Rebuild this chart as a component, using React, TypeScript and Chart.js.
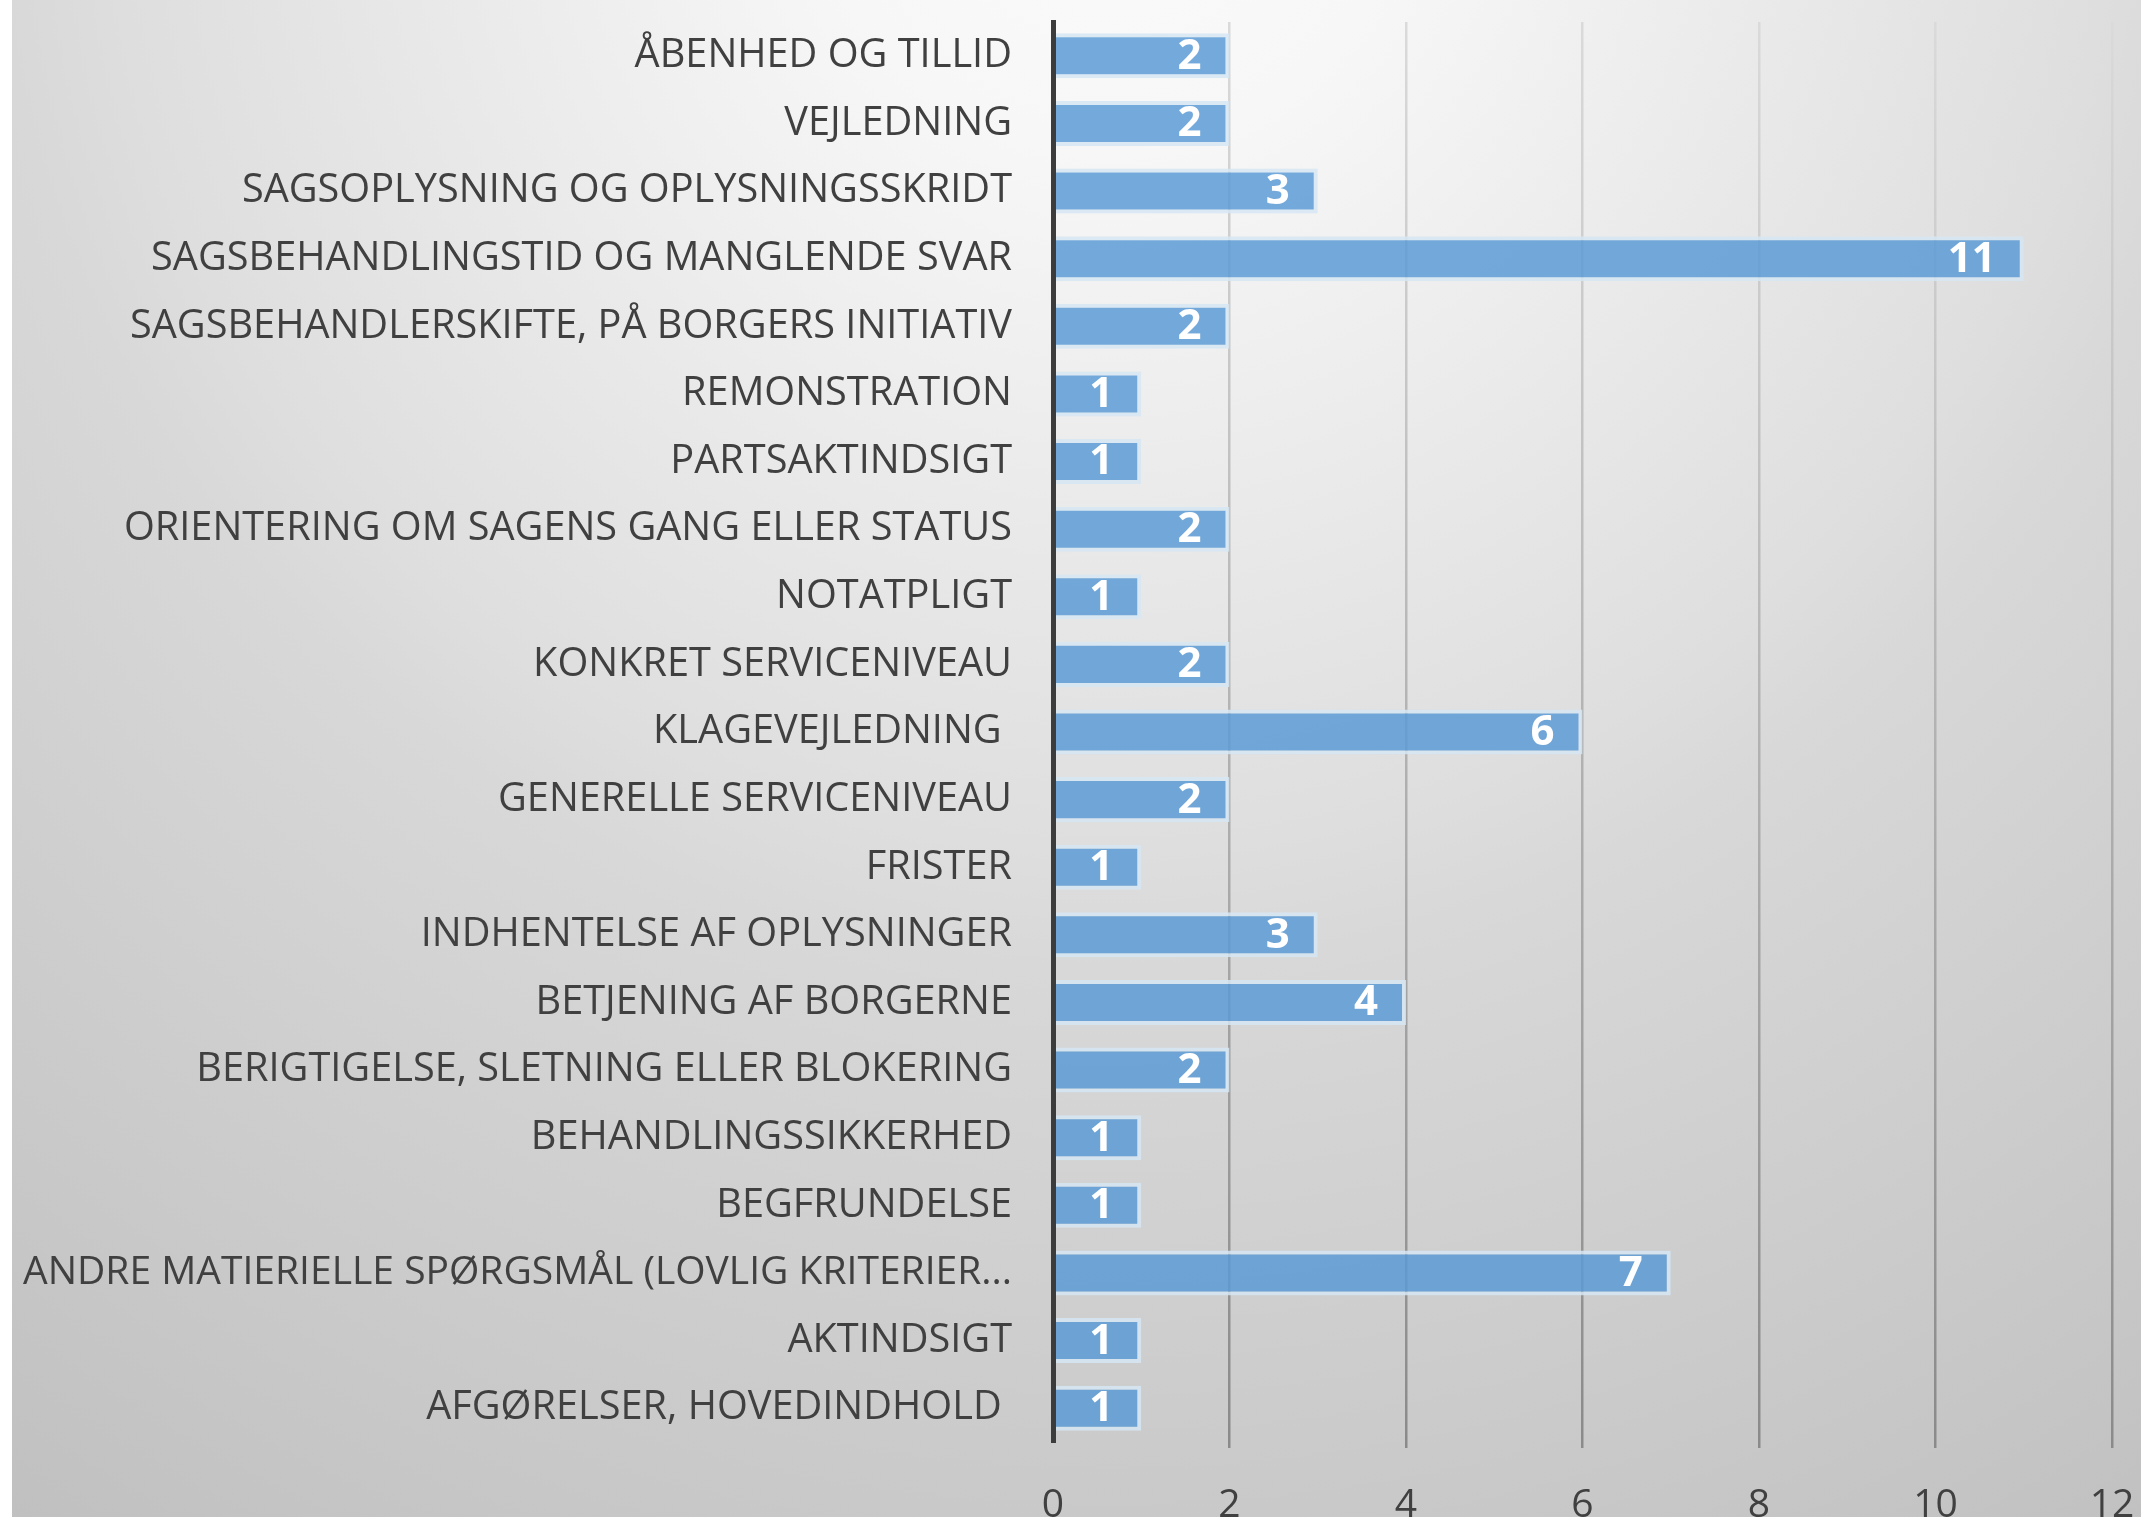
import { useEffect, useRef } from 'react';
import { Chart, registerables } from 'chart.js';

Chart.register(...registerables);

const categories = [
  'ÅBENHED OG TILLID',
  'VEJLEDNING',
  'SAGSOPLYSNING OG OPLYSNINGSSKRIDT',
  'SAGSBEHANDLINGSTID OG MANGLENDE SVAR',
  'SAGSBEHANDLERSKIFTE, PÅ BORGERS INITIATIV',
  'REMONSTRATION',
  'PARTSAKTINDSIGT',
  'ORIENTERING OM SAGENS GANG ELLER STATUS',
  'NOTATPLIGT',
  'KONKRET SERVICENIVEAU',
  'KLAGEVEJLEDNING ',
  'GENERELLE SERVICENIVEAU',
  'FRISTER',
  'INDHENTELSE AF OPLYSNINGER',
  'BETJENING AF BORGERNE',
  'BERIGTIGELSE, SLETNING ELLER BLOKERING',
  'BEHANDLINGSSIKKERHED',
  'BEGFRUNDELSE',
  'ANDRE MATIERIELLE SPØRGSMÅL (LOVLIG KRITERIER...',
  'AKTINDSIGT',
  'AFGØRELSER, HOVEDINDHOLD ',
];

const values = [2, 2, 3, 11, 2, 1, 1, 2, 1, 2, 6, 2, 1, 3, 4, 2, 1, 1, 7, 1, 1];

const xMin = 0;
const xMax = 12;
const xStep = 2;

const FONT = "'Open Sans', 'Noto Sans', sans-serif";

export default function App() {
  const ref = useRef<HTMLCanvasElement>(null);

  useEffect(() => {
    const canvas = ref.current;
    if (!canvas) return;

    const bgPlugin = {
      id: 'bgGradient',
      beforeDraw(chart: any) {
        const { ctx, width, height } = chart;
        const g = ctx.createRadialGradient(1100, -150, 0, 1100, -150, 2000);
        g.addColorStop(0, '#fbfbfb');
        g.addColorStop(0.15, '#f7f7f7');
        g.addColorStop(0.5, '#dedede');
        g.addColorStop(0.56, '#d8d8d8');
        g.addColorStop(1, '#c0c0c0');
        ctx.save();
        ctx.fillStyle = g;
        ctx.fillRect(0, 0, width, height);
        ctx.restore();
      },
    };

    const labelPlugin = {
      id: 'barValueLabels',
      afterDatasetsDraw(chart: any) {
        const { ctx } = chart;
        const meta = chart.getDatasetMeta(0);
        ctx.save();
        ctx.font = `bold 42px ${FONT}`;
        ctx.fillStyle = '#ffffff';
        ctx.textAlign = 'right';
        ctx.textBaseline = 'middle';
        meta.data.forEach((el: any, i: number) => {
          const { x, y } = el.getProps(['x', 'y'], true);
          ctx.fillText(String(values[i]), x - 28, y + 1);
        });
        ctx.restore();
      },
    };

    const gridColor = (c: any) => {
      if (c.index === 0) return 'rgba(0,0,0,0)';
      const chart = c.chart;
      const area = chart.chartArea;
      if (!area) return '#b0b0b0';
      const g = chart.ctx.createLinearGradient(0, area.top, 0, area.bottom + 8);
      g.addColorStop(0, '#dadada');
      g.addColorStop(0.5, '#b2b2b2');
      g.addColorStop(1, '#8a8a8a');
      return g;
    };

    const chart = new Chart(canvas, {
      type: 'bar',
      data: {
        labels: categories,
        datasets: [
          {
            data: values,
            backgroundColor: 'rgba(91,155,213,0.84)',
            borderColor: 'rgba(214,230,245,0.85)',
            borderWidth: 4,
            borderSkipped: 'start',
            barPercentage: 0.666,
            categoryPercentage: 1,
          },
        ],
      },
      options: {
        indexAxis: 'y',
        animation: false,
        responsive: false,
        layout: { padding: { left: 0, right: 29, top: 22, bottom: 0 } },
        plugins: {
          legend: { display: false },
          tooltip: { enabled: false },
        },
        scales: {
          x: {
            min: xMin,
            max: xMax,
            ticks: {
              stepSize: xStep,
              font: { family: FONT, size: 39 },
              color: '#404040',
              padding: 34,
            },
            grid: {
              color: gridColor,
              lineWidth: 2.5,
              tickLength: 6,
              drawTicks: true,
            },
            border: { display: false },
            afterFit(s: any) {
              s.height = 75;
              s.paddingLeft = 0;
              s.paddingRight = 0;
            },
          },
          y: {
            ticks: {
              font: (c: any) => ({ family: FONT, size: c.index === 18 ? 39 : 39.7 }),
              color: '#404040',
              padding: 41,
            },
            grid: { display: false, drawTicks: false },
            border: { display: true, color: '#3c3c3c', width: 5, z: 1 },
            afterFit(s: any) {
              s.width = 1041;
              s.paddingTop = 0;
              s.paddingBottom = 0;
            },
          },
        },
      },
      plugins: [bgPlugin, labelPlugin],
    } as any);

    return () => chart.destroy();
  }, []);

  return (
    <div
      style={{
        position: 'absolute',
        left: 0,
        top: 0,
        width: 2141,
        height: 1517,
        background: '#ffffff',
        overflow: 'hidden',
      }}
    >
      <canvas
        ref={ref}
        width={2129}
        height={1517}
        style={{ position: 'absolute', left: 12, top: 0, width: 2129, height: 1517 }}
      />
    </div>
  );
}
